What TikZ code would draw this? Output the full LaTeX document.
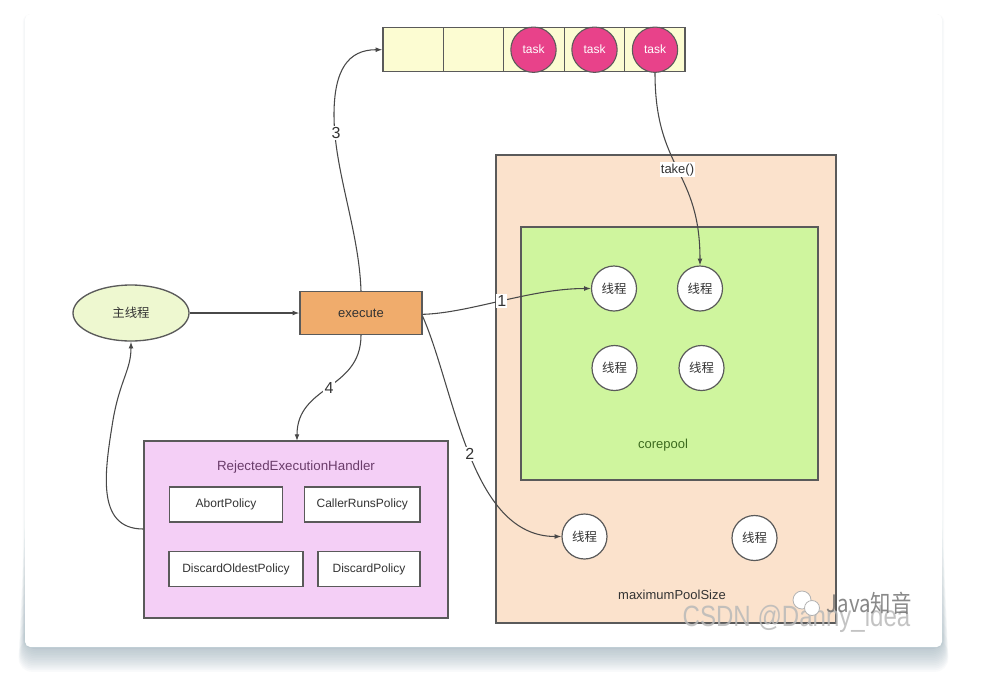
\documentclass[tikz,border=0pt]{standalone}
\usepackage{fontspec}
\setmainfont{Liberation Sans}
\newfontfamily\cjk{Noto Sans CJK SC}
\usetikzlibrary{arrows.meta,shapes.geometric}
\definecolor{linec}{HTML}{5A5A5A}
\definecolor{queuec}{HTML}{FCFCD2}
\definecolor{taskc}{HTML}{E8428A}
\definecolor{mainc}{HTML}{EEF8D0}
\definecolor{execc}{HTML}{F0AC6C}
\definecolor{peachc}{HTML}{FBE2CC}
\definecolor{greenc}{HTML}{CFF59E}
\definecolor{rejc}{HTML}{F4CFF6}
\definecolor{shadowc}{HTML}{8FA6B2}
\definecolor{txtc}{HTML}{333333}
\definecolor{corec}{HTML}{3C6A1E}
\definecolor{rejtxt}{HTML}{6A3C6A}
\tikzset{
  boxline/.style={draw=linec, line width=1pt},
  cell/.style={boxline, fill=queuec, minimum width=45.3pt, minimum height=33pt, inner sep=0},
  taskball/.style={circle, draw=linec, line width=0.8pt, fill=taskc, minimum size=34pt, inner sep=0, text=white, font=\fontsize{9}{10}\selectfont},
  thread/.style={circle, draw=linec, line width=0.9pt, fill=white, minimum size=33.75pt, inner sep=0, text=txtc, font=\cjk\fontsize{9.3}{10}\selectfont},
  policy/.style={boxline, fill=white, minimum height=26.25pt, inner sep=0, text=txtc, font=\fontsize{9}{10}\selectfont},
  lbl/.style={fill=white, inner sep=1pt, text=txtc, font=\fontsize{12}{13}\selectfont},
  conn/.style={draw=linec!80!black, line width=0.8pt, -{Latex[length=5pt,width=3.6pt]}},
  plain/.style={text=txtc, font=\fontsize{9.75}{11}\selectfont}
}
\begin{document}
\begin{tikzpicture}[x=0.75pt,y=-0.75pt]
\useasboundingbox (0,0) rectangle (986,672);
\fill[white] (0,0) rectangle (986,672);
% card shadow
\foreach \i in {1,...,14}{
  \fill[shadowc, opacity=0.05, rounded corners=10pt] (25-\i*0.45,500+\i*10) rectangle (942+\i*0.45,648+\i*1.7);
}
\foreach \i in {1,...,4}{
  \fill[shadowc, opacity=0.025, rounded corners=6pt] (25-\i*0.6,14) rectangle (942+\i*0.6,648);
}
\fill[white, rounded corners=4pt] (25,14) rectangle (942,647);

% containers
\node[boxline, fill=peachc, minimum width=255pt, minimum height=351pt, inner sep=0] (maxpool) at (666,389) {};
\node[boxline, fill=greenc, minimum width=222.75pt, minimum height=189.75pt, inner sep=0] (core) at (669.5,353.5) {};
\node[boxline, fill=rejc, minimum width=228pt, minimum height=132.75pt, inner sep=0] (rej) at (296,529.5) {};

\node[plain] (maxlbl) at (672,595) {maximumPoolSize};
\node[plain, text=corec] (corelbl) at (663,445) {corepool};
\node[plain, text=rejtxt, font=\fontsize{10}{11}\selectfont] (rejlbl) at (296,467) {RejectedExecutionHandler};

% policies
\node[policy, minimum width=85pt] (abort) at (226,504.5) {AbortPolicy};
\node[policy, minimum width=86.5pt] (caller) at (362.3,504.5) {CallerRunsPolicy};
\node[policy, minimum width=100.5pt] (oldest) at (236,569) {DiscardOldestPolicy};
\node[policy, minimum width=76.7pt] (discard) at (369,569) {DiscardPolicy};

% queue
\node[cell] (q1) at (413.2,49.7) {};
\node[cell] (q2) at (473.6,49.7) {};
\node[cell] (q3) at (534,49.7) {};
\node[cell] (q4) at (594.4,49.7) {};
\node[cell] (q5) at (654.8,49.7) {};
\node[taskball] (t1) at (533.5,49.7) {task};
\node[taskball] (t2) at (594.5,49.7) {task};
\node[taskball] (t3) at (655,49.7) {task};

% main nodes
\node[ellipse, boxline, fill=mainc, minimum width=87pt, minimum height=42pt, inner sep=0, text=txtc, font=\cjk\fontsize{9.3}{10}\selectfont] (main) at (131,313) {主线程};
\node[boxline, fill=execc, minimum width=91.5pt, minimum height=32.25pt, inner sep=0, text=txtc, font=\fontsize{9.75}{11}\selectfont] (exec) at (361,313) {execute};

% threads
\node[thread] (th1) at (614,288.5) {线程};
\node[thread] (th2) at (700,288.5) {线程};
\node[thread] (th3) at (614.5,368) {线程};
\node[thread] (th4) at (701.5,368) {线程};
\node[thread] (th5) at (584.5,536.5) {线程};
\node[thread] (th6) at (754.5,538) {线程};

% connectors
\draw[conn] (main.east) -- (exec.west);
\draw[conn] (exec.north) .. controls (359,230) and (334,170) .. (334,115) .. controls (334,70) and (348,49.7) .. (q1.west);
\node[lbl] (n3) at (336,133) {3};
\draw[conn] ([yshift=-1pt]exec.east) .. controls (470,313) and (530,288.5) .. (th1.west) node[lbl, pos=0.5] {1};
\draw[conn] ([yshift=-2.5pt]exec.east) .. controls (455,390) and (470,536.5) .. (th5.west) node[lbl, pos=0.5] {2};
\draw[conn] (exec.south) .. controls (361,390) and (297,385) .. (297,441) node[lbl, pos=0.5] {4};
\draw[conn] (t3.south) .. controls (655,170) and (700,170) .. (th2.north) node[plain, fill=white, inner sep=1pt, pos=0.5] {take()};
\draw[conn] (rej.west |- 0,529) .. controls (95,529) and (105,470) .. (113,420) .. controls (120,380) and (131,370) .. (main.south);

% watermark
\node[text=gray!55, opacity=0.85, font=\fontsize{22}{24}\selectfont, anchor=base west] (wm) at (678,626) {\scalebox{0.82}[1]{CSDN @Danny\_idea}};
\fill[white, draw=gray!60, line width=0.6pt] (802,600) circle (9);
\fill[white, draw=gray!60, line width=0.6pt] (812,608) circle (7.5);
\node[text=gray!85!black, opacity=0.8, font=\cjk\fontsize{18}{20}\selectfont, anchor=base west] (wm2) at (822,612) {\scalebox{0.85}[1]{Java知音}};
\end{tikzpicture}
\end{document}
